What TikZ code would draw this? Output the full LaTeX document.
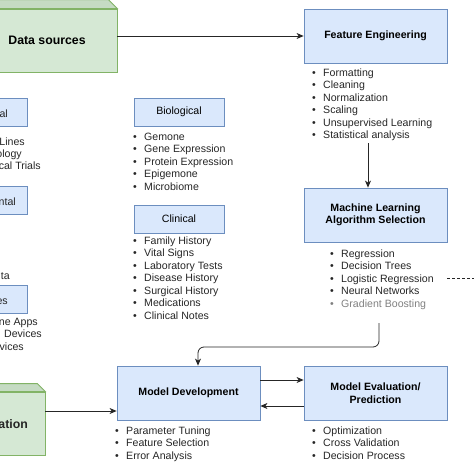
\documentclass[tikz,border=0pt]{standalone}
\usepackage{fontspec}
\setmainfont{Liberation Sans}
\usetikzlibrary{arrows.meta}

\definecolor{bluefill}{HTML}{DAE8FC}
\definecolor{blueline}{HTML}{6C8EBF}
\definecolor{greenfill}{HTML}{D5E8D4}
\definecolor{greentop}{HTML}{C5DBC3}
\definecolor{greenline}{HTML}{82B366}
\newcommand{\bul}{\makebox[11pt][l]{\textbullet}}

\begin{document}
\begin{tikzpicture}[x=1pt,y=-1pt,
  blk/.style={draw=blueline,fill=bluefill,line width=0.8pt,minimum width=143,minimum height=54,align=center,font=\fontsize{10.6}{12.5}\selectfont\bfseries},
  cat/.style={draw=blueline,fill=bluefill,line width=0.8pt,minimum width=90,minimum height=28,font=\fontsize{10.6}{12.5}\selectfont},
  item/.style={anchor=base west,inner sep=0pt,text=black!85,font=\fontsize{10.6}{12.5}\selectfont},
  cut/.style={anchor=base east,inner sep=0pt,text=black!85,font=\fontsize{10.6}{12.5}\selectfont},
  cube/.style={draw=greenline,fill=greenfill,line width=0.8pt},
  cubetop/.style={draw=greenline,fill=greentop,line width=0.8pt},
  arr/.style={-{Stealth[length=7pt,width=6pt,inset=2pt]},line width=0.8pt,draw=black!85}]

\useasboundingbox (0,0) rectangle (474,474);

% green blocks
\node[cube,minimum width=140,minimum height=63,font=\fontsize{12.3}{14}\selectfont\bfseries] (ds) at (47,40.5) {Data sources};
\draw[cubetop] (ds.north west) -- (ds.north east) -- ++(-9,-9) -- ++(-150,0) -- cycle;
\node[cube,minimum width=80,minimum height=63] (gb) at (5,423.5) {};
\draw[cubetop] (gb.north west) -- (gb.north east) -- ++(-8,-8) -- ++(-100,0) -- cycle;
\node[cut,font=\fontsize{12.3}{14}\selectfont\bfseries] (gbl) at (28,428) {ation};

% main steps
\node[blk] (fe) at (375.5,36) {Feature Engineering};
\node[blk] (ml) at (375.5,215) {Machine Learning\\Algorithm Selection};
\node[blk] (md) at (188.5,393) {Model Development};
\node[blk] (me) at (375.5,393) {Model Evaluation/\\Prediction};

% data categories
\node[cat] (bio) at (179,112) {Biological};
\node[cat] (cli) at (179,219) {Clinical};
\node[cat] (phy) at (-18,112) {};
\node[cat] (env) at (-18,200.5) {};
\node[cat] (dev) at (-18,299) {};
\node[cut] (phyl) at (8,117) {cal};
\node[cut] (envl) at (16,205) {ntal};
\node[cut] (devl) at (8,304) {es};

% lists
\foreach \t [count=\i] in {Formatting,Cleaning,Normalization,Scaling,Unsupervised Learning,Statistical analysis}
  \node[item] (fe-\i) at (312,63.5+12.5*\i) {\bul\t};
\foreach \t [count=\i] in {Regression,Decision Trees,Logistic Regression,Neural Networks}
  \node[item] (ml-\i) at (330,244.5+12.5*\i) {\bul\t};
\node[item,text=black!50] (ml-5) at (330,307) {\bul Gradient Boosting};
\foreach \t [count=\i] in {Gemone,Gene Expression,Protein Expression,Epigemone,Microbiome}
  \node[item] (bio-\i) at (133,127.5+12.5*\i) {\bul\t};
\foreach \t [count=\i] in {Family History,Vital Signs,Laboratory Tests,Disease History,Surgical History,Medications,Clinical Notes}
  \node[item] (cli-\i) at (133,231.5+12.5*\i) {\bul\t};
\foreach \t [count=\i] in {Parameter Tuning,Feature Selection,Error Analysis}
  \node[item] (md-\i) at (115,421.5+12.5*\i) {\bul\t};
\foreach \t [count=\i] in {Optimization,Cross Validation,Decision Process}
  \node[item] (me-\i) at (312,421.5+12.5*\i) {\bul\t};

% cut lists on the left
\node[cut] (phy-1) at (25,145) {Lines};
\node[cut] (phy-2) at (22,157) {ology};
\node[cut] (phy-3) at (41,169) {cal Trials};
\node[cut] (env-1) at (10,279) {ta};
\node[cut] (dev-1) at (38,325) {ne Apps};
\node[cut] (dev-2) at (42,337) {Devices};
\node[cut] (dev-3) at (24,350) {vices};

% connectors
\coordinate (fe-end) at (368,143);
\coordinate (ml-end) at (379,323);
\coordinate (md-in) at (198,347);
\coordinate (md-low) at ([yshift=-18pt]md.west);
\coordinate (dash-a) at (447,278);

\draw[arr] (fe.west -| ds.east) -- (fe.west);
\draw[arr] (fe-end) -- (fe-end |- ml.north);
\draw[arr,rounded corners=6pt] (ml-end) |- (md-in) -- (md-in |- md.north);
\draw[arr] ([yshift=13pt]md.east) -- ([yshift=13pt]me.west);
\draw[arr] ([yshift=-13pt]me.west) -- ([yshift=-13pt]md.east);
\draw[arr] (md-low -| gb.east) -- (md-low);
\draw[line width=0.8pt,draw=black!85,dash pattern=on 3pt off 2pt] (dash-a) -- ++(27,0);

\end{tikzpicture}
\end{document}
